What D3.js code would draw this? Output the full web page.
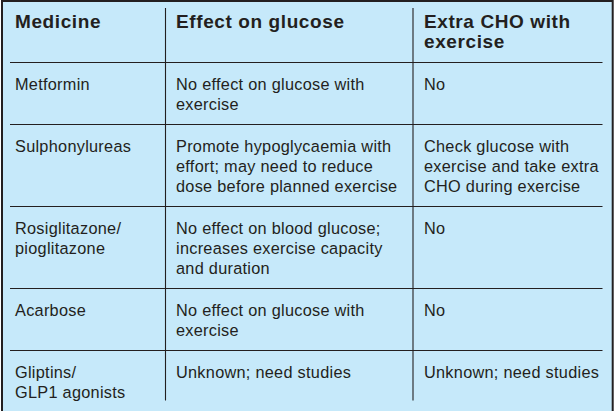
<!DOCTYPE html>
<html>
<head>
<meta charset="utf-8">
<script src="https://cdn.jsdelivr.net/npm/d3@7"></script>
<style>
  html, body { margin: 0; padding: 0; background: #ffffff; }
  svg { display: block; }
  text { font-family: "Liberation Sans", Arial, Helvetica, sans-serif; fill: #231f20; }
</style>
</head>
<body>
<svg id="chart" width="616" height="411"></svg>
<script>
// ---- data ----
const headers = [["Medicine"], ["Effect on glucose"], ["Extra CHO with", "exercise"]];
const medicines = [
  ["Metformin"],
  ["Sulphonylureas"],
  ["Rosiglitazone/", "pioglitazone"],
  ["Acarbose"],
  ["Gliptins/", "GLP1 agonists"]
];
const glucoseEffects = [
  ["No effect on glucose with", "exercise"],
  ["Promote hypoglycaemia with", "effort; may need to reduce", "dose before planned exercise"],
  ["No effect on blood glucose;", "increases exercise capacity", "and duration"],
  ["No effect on glucose with", "exercise"],
  ["Unknown; need studies"]
];
const extraCHO = [
  ["No"],
  ["Check glucose with", "exercise and take extra", "CHO during exercise"],
  ["No"],
  ["No"],
  ["Unknown; need studies"]
];

// ---- layout ----
const W = 616, H = 411;
const lineH = 20, padH = 22;
const colX = [15, 176, 424];
const vLines = [165.5, 413];
const svg = d3.select("#chart");

svg.append("rect").attr("x", 2).attr("y", 1).attr("width", 610.7).attr("height", 430)
  .attr("fill", "#c6e9fa").attr("stroke", "#231f20").attr("stroke-width", 2);

const rows = [headers].concat(medicines.map((m, i) => [m, glucoseEffects[i], extraCHO[i]]));
let y = 0.5;
const rowTops = [];
rows.forEach(r => {
  rowTops.push(y);
  const n = d3.max(r, c => c.length);
  y += Math.max(2, n) * lineH + padH;
});

// horizontal separators
svg.selectAll("line.h").data(rowTops.slice(1)).join("line")
  .attr("class", "h")
  .attr("x1", 10).attr("x2", 602.5)
  .attr("y1", d => d).attr("y2", d => d)
  .attr("stroke", "#231f20").attr("stroke-width", 1.1);

// vertical separators
svg.selectAll("line.v").data(vLines).join("line")
  .attr("class", "v")
  .attr("x1", d => d).attr("x2", d => d)
  .attr("y1", 8).attr("y2", 400.5)
  .attr("stroke", "#231f20").attr("stroke-width", 1.1);

// cells
rows.forEach((r, ri) => {
  const isHead = ri === 0;
  r.forEach((cell, ci) => {
    const t = svg.append("text")
      .attr("x", colX[ci])
      .attr("y", rowTops[ri] + (isHead ? 27.8 : 27))
      .style("font-size", isHead ? "19px" : "16.3px")
      .style("letter-spacing", isHead ? "0.6px" : "0.28px")
      .style("font-weight", isHead ? "bold" : "normal");
    cell.forEach((line, li) => {
      t.append("tspan").attr("x", colX[ci]).attr("dy", li === 0 ? 0 : (isHead ? 20 : lineH)).text(line);
    });
  });
});
</script>
</body>
</html>
